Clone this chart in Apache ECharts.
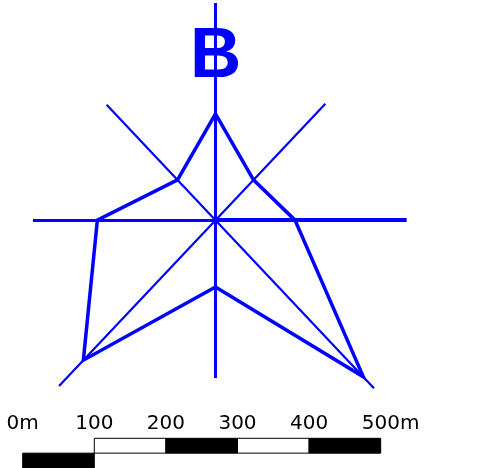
<!DOCTYPE html>
<html><head><meta charset="utf-8">
<script src="https://cdn.jsdelivr.net/npm/echarts@6/dist/echarts.min.js"></script>
<style>html,body{margin:0;padding:0;background:#fff}#c{width:480px;height:468px}</style>
</head><body><div id="c"></div>
<script>
// Station label
const stationLabel = 'B';
// Compass directions and their bearings (degrees clockwise from north)
const directions = ['N', 'NE', 'E', 'SE', 'S', 'SW', 'W', 'NW'];
const bearings = [0, 45, 90, 135, 180, 225, 270, 315];
// Distance of the outline vertex along each direction (m)
const outlineDistances = [140, 75, 111, 292, 88, 261, 165, 75];
// Length of each direction ray (m)
const rayLengths = [286, 217, 267, 313, 208, 309, 255, 215];
// Scale bar tick labels (m)
const scaleTicks = [0, 100, 200, 300, 400, 500];
// Scale bar segments: [start m, end m, row, filled(1)/open(0)]
const scaleSegments = [[100, 200, 0, 0], [200, 300, 0, 1], [300, 400, 0, 0], [400, 500, 0, 1], [0, 100, 1, 1]];

const BLUE = '#0000ff';
const rayWidthByDir = { N: 3, E: 4, S: 3, W: 3, NE: 2.2, SE: 2.2, SW: 2.2, NW: 2.2 };

function polar(r, deg) {
  const a = deg * Math.PI / 180;
  return [r * Math.sin(a), r * Math.cos(a)];
}

const outline = outlineDistances.map((d, i) => polar(d, bearings[i]));
outline.push(outline[0]);

const rays = rayLengths.map((L, i) => ({
  coords: [[0, 0], polar(L, bearings[i])],
  lineStyle: { width: rayWidthByDir[directions[i]] }
}));

const chart = echarts.init(document.getElementById('c'));
chart.setOption({
  animation: false,
  backgroundColor: '#ffffff',
  title: {
    text: stationLabel, left: 190, top: 22, padding: 0,
    textStyle: { fontSize: 71, fontWeight: 'bold', color: BLUE, fontFamily: 'Liberation Sans' }
  },
  grid: [
    { left: 0.7, width: 429.6, top: 0, height: 409.9 },
    { left: 22.7, width: 358, top: 438.3, height: 36.8 }
  ],
  xAxis: [
    { gridIndex: 0, type: 'value', min: -300, max: 300, show: false },
    {
      gridIndex: 1, type: 'value', min: 0, max: 500, interval: 100, position: 'top',
      axisLine: { show: false }, axisTick: { show: false }, splitLine: { show: false },
      axisLabel: {
        show: true, margin: 5, color: '#000', fontSize: 20, fontFamily: 'DejaVu Sans',
        showMinLabel: true, showMaxLabel: true, hideOverlap: false,
        formatter: v => v === scaleTicks[0] ? v + 'm' : (v === scaleTicks[scaleTicks.length - 1] ? '{p|' + v + 'm}' : String(v)),
        rich: { p: { fontSize: 20, fontFamily: 'DejaVu Sans', color: '#000', padding: [0, 0, 0, 20] } }
      }
    }
  ],
  yAxis: [
    { gridIndex: 0, type: 'value', min: -250, max: 290, show: false },
    { gridIndex: 1, type: 'value', min: 0, max: 2, inverse: true, show: false }
  ],
  series: [
    {
      type: 'lines', coordinateSystem: 'cartesian2d', xAxisIndex: 0, yAxisIndex: 0,
      polyline: false, silent: true, z: 2,
      lineStyle: { color: BLUE, width: 2, opacity: 1, curveness: 0, cap: 'butt' },
      data: rays
    },
    {
      type: 'line', xAxisIndex: 0, yAxisIndex: 0, data: outline, symbol: 'none', clip: false, z: 3,
      lineStyle: { color: BLUE, width: 3.5, join: 'miter', cap: 'butt' }
    },
    {
      type: 'custom', xAxisIndex: 1, yAxisIndex: 1, data: scaleSegments, clip: false,
      renderItem: function (params, api) {
        const p0 = api.coord([api.value(0), api.value(2)]);
        const p1 = api.coord([api.value(1), api.value(2) + 1]);
        return {
          type: 'rect',
          shape: { x: p0[0], y: p0[1], width: p1[0] - p0[0], height: p1[1] - p0[1] },
          style: { fill: api.value(3) ? '#000' : '#fff', stroke: '#000', lineWidth: 1 }
        };
      }
    }
  ]
});
</script></body></html>
